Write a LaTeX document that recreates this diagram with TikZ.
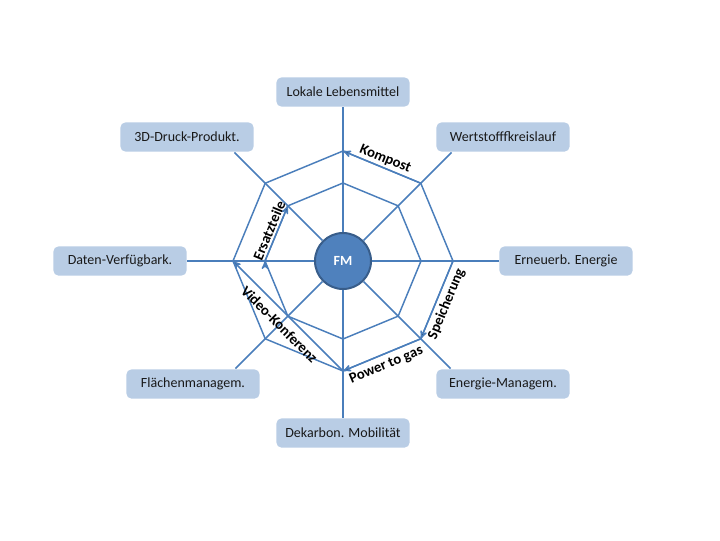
\documentclass[tikz,border=0pt]{standalone}
\usepackage{fontspec}
\setmainfont{Carlito}
\usetikzlibrary{arrows}
\definecolor{linie}{HTML}{4A7EBB}
\definecolor{kasten}{HTML}{B9CDE5}
\definecolor{kern}{HTML}{4F81BD}
\definecolor{kernrand}{HTML}{385D8A}

\begin{document}
\begin{tikzpicture}[x=0.75pt,y=0.75pt,>=stealth',line width=1.1pt,
    feld/.style={rectangle, rounded corners=4pt, fill=kasten, text=black!90, minimum width=100pt, minimum height=22pt, font=\fontsize{10.5}{12}\selectfont},
    mitte/.style={circle, fill=kern, draw=kernrand, line width=1.5pt, minimum size=42pt, text=white, font=\fontsize{10.5}{12}\selectfont\bfseries},
    pfeil/.style={->, draw=linie},
    marke/.style={sloped, inner sep=1.5pt, font=\fontsize{11}{12}\selectfont\bfseries}]
                \useasboundingbox (-343,-279) rectangle (377,261);
                \node[mitte] (FM) at (0,0) {FM};
                \node[feld] (lokal) at (0,169) {Lokale Lebensmittel};
                \node[feld] (wert) at (160,124) {Wertstofffkreislauf};
                \node[feld] (erneu) at (223,0) {Erneuerb. Energie};
                \node[feld] (emgmt) at (160,-123) {Energie-Managem.};
                \node[feld] (mobil) at (0,-172) {Dekarbon. Mobilität};
                \node[feld] (flaeche) at (-150,-123) {Flächenmanagem.};
                \node[feld] (daten) at (-223,0) {Daten-Verfügbark.};
                \node[feld] (druck) at (-156,124) {3D-Druck-Produkt.};
                % Ecken der beiden Achtecke
                \foreach \w in {0,...,7} {
                    \coordinate (i\w) at (\w*45:78);
                    \coordinate (o\w) at (\w*45:110);
                }
                \draw[linie] (i0) -- (i1) -- (i2) -- (i3) -- (i4) -- (i5) -- (i6) -- (i7) -- cycle;
                \draw[linie] (o0) -- (o1) -- (o2) -- (o3) -- (o4) -- (o5) -- (o6) -- (o7) -- cycle;
                % Speichen
                \draw[linie] (FM) -- (lokal);
                \draw[linie] (FM) -- (erneu);
                \draw[linie] (FM) -- (mobil);
                \draw[linie] (FM) -- (daten);
                \draw[linie] (FM) -- (intersection of FM.center--o1 and wert.south west--wert.south east);
                \draw[linie] (FM) -- (intersection of FM.center--o7 and emgmt.north west--emgmt.north east);
                \draw[linie] (FM) -- (intersection of FM.center--o5 and flaeche.north west--flaeche.north east);
                \draw[linie] (FM) -- (intersection of FM.center--o3 and druck.south west--druck.south east);
                \path[pfeil]
                (o1) edge node[marke, above] {Kompost} (o2)
                (o0) edge node[marke, below=1pt] {Speicherung} (o7)
                (o7) edge node[marke, below=2pt] {Power to gas} (o6)
                (o6) edge node[marke, below=3pt] {Video-Konferenz} (o4)
                (i4) edge node[marke, above] {Ersatzteile} (i3)
                ;
            \end{tikzpicture}
\end{document}
